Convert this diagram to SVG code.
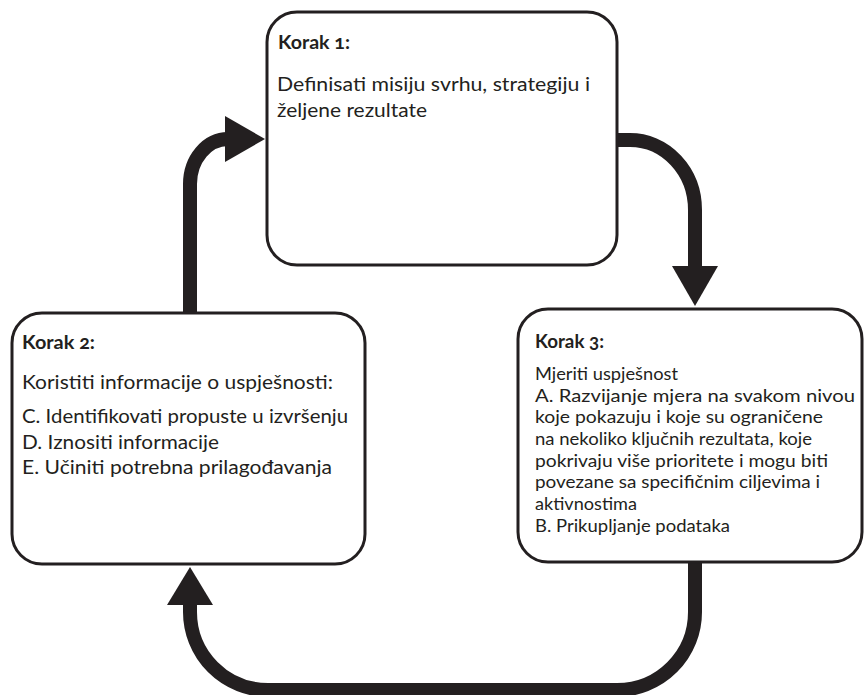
<svg xmlns="http://www.w3.org/2000/svg" width="866" height="695" viewBox="0 0 866 695">
  <defs>
    <style>
      .box { fill: #ffffff; stroke: #231f20; stroke-width: 3; }
      .flow { fill: none; stroke: #231f20; stroke-width: 14; }
      .head { fill: #231f20; }
      text { fill: #231f20; font-family: Lato, "Open Sans", "Liberation Sans", sans-serif; }
      .title { font-size: 19px; font-weight: bold; font-variant-numeric: oldstyle-nums; }
      .body { font-size: 19.5px; }
      .small { font-size: 17.5px; }
    </style>
  </defs>

  <!-- connectors: thick curved arrows running clockwise between the steps -->
  <g id="connectors">
    <g id="edge-1-3">
      <path class="flow" d="M613 140 L630 140 A65 70 0 0 1 695 210 L695 268"/>
      <polygon class="head" points="672,266 718,266 695,306"/>
    </g>
    <g id="edge-3-2">
      <path class="flow" d="M695 555 L695 612 A78 78 0 0 1 617 690 L268 690 A78 78 0 0 1 190 612 L190 603"/>
      <polygon class="head" points="167,605 213,605 190,567"/>
    </g>
    <g id="edge-2-1">
      <path class="flow" d="M190 318 L190 184 A38 45 0 0 1 228 139"/>
      <polygon class="head" points="225,116 225,162 265,139"/>
    </g>
  </g>

  <g id="step1">
    <rect class="box" x="267" y="12" width="350" height="253" rx="30" ry="30"/>
    <text class="title" x="278" y="49" textLength="72" lengthAdjust="spacingAndGlyphs">Korak 1:</text>
    <text class="body" x="277" y="91" textLength="313" lengthAdjust="spacingAndGlyphs">Definisati misiju svrhu, strategiju i</text>
    <text class="body" x="277" y="117" textLength="150" lengthAdjust="spacingAndGlyphs">željene rezultate</text>
  </g>

  <g id="step2">
    <rect class="box" x="12" y="313" width="353" height="251" rx="30" ry="30"/>
    <text class="title" x="22" y="349" textLength="73" lengthAdjust="spacingAndGlyphs">Korak 2:</text>
    <text class="body" x="22" y="389" textLength="311" lengthAdjust="spacingAndGlyphs">Koristiti informacije o uspješnosti:</text>
    <text class="body" x="22" y="423" textLength="326" lengthAdjust="spacingAndGlyphs">C. Identifikovati propuste u izvršenju</text>
    <text class="body" x="22" y="448.5" textLength="197" lengthAdjust="spacingAndGlyphs">D. Iznositi informacije</text>
    <text class="body" x="22" y="474" textLength="310" lengthAdjust="spacingAndGlyphs">E. Učiniti potrebna prilagođavanja</text>
  </g>

  <g id="step3">
    <rect class="box" x="518" y="309" width="344" height="253" rx="30" ry="30"/>
    <text class="title" x="535" y="348" textLength="69" lengthAdjust="spacingAndGlyphs">Korak 3:</text>
    <text class="small" x="535" y="380" textLength="143" lengthAdjust="spacingAndGlyphs">Mjeriti uspješnost</text>
    <text class="small" x="535" y="401.7" textLength="320" lengthAdjust="spacingAndGlyphs">A. Razvijanje mjera na svakom nivou</text>
    <text class="small" x="535" y="423.3" textLength="288" lengthAdjust="spacingAndGlyphs">koje pokazuju i koje su ograničene</text>
    <text class="small" x="535" y="445" textLength="277" lengthAdjust="spacingAndGlyphs">na nekoliko ključnih rezultata, koje</text>
    <text class="small" x="535" y="466.7" textLength="293" lengthAdjust="spacingAndGlyphs">pokrivaju više prioritete i mogu biti</text>
    <text class="small" x="535" y="488.3" textLength="285" lengthAdjust="spacingAndGlyphs">povezane sa specifičnim ciljevima i</text>
    <text class="small" x="535" y="510" textLength="102" lengthAdjust="spacingAndGlyphs">aktivnostima</text>
    <text class="small" x="535" y="531.7" textLength="195" lengthAdjust="spacingAndGlyphs">B. Prikupljanje podataka</text>
  </g>
</svg>
